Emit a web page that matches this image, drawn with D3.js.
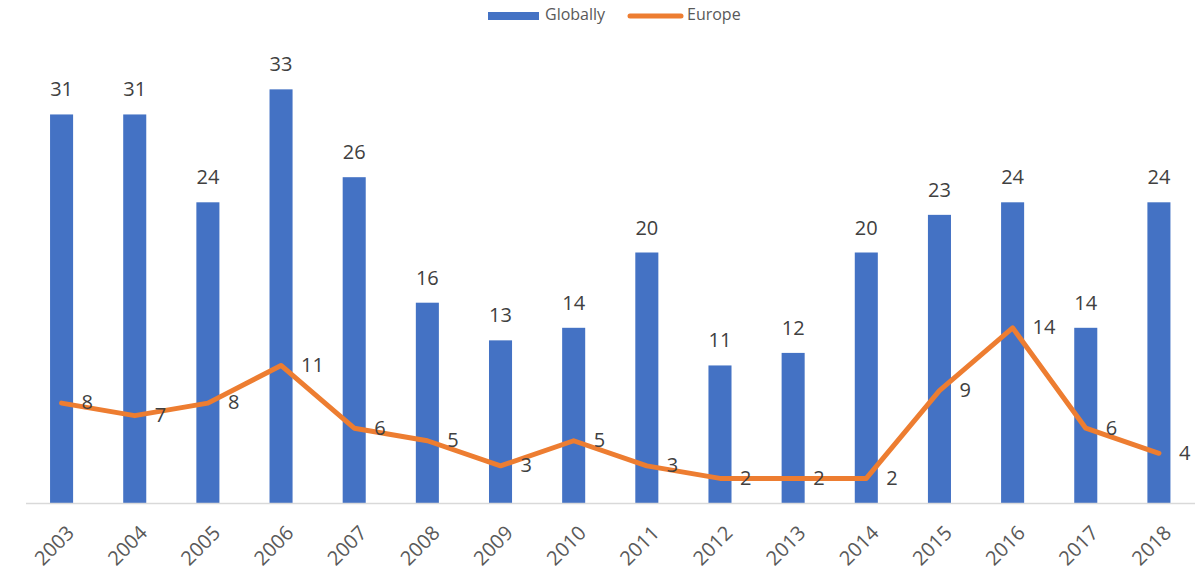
<!DOCTYPE html>
<html><head><meta charset="utf-8">
<script src="https://cdn.jsdelivr.net/npm/d3@7"></script>
<style>body{margin:0;background:#fff}svg{display:block}</style>
</head><body>
<script>
const years = ["2003","2004","2005","2006","2007","2008","2009","2010","2011","2012","2013","2014","2015","2016","2017","2018"];
const globally = [31,31,24,33,26,16,13,14,20,11,12,20,23,24,14,24];
const europe = [8,7,8,11,6,5,3,5,3,2,2,2,9,14,6,4];
const seriesNames = ["Globally","Europe"];

const W = 1201, H = 573;
const font = "'Open Sans', 'Noto Sans', sans-serif";
const svg = d3.select("body").append("svg").attr("width", W).attr("height", H);

const x = d3.scaleBand().domain(years).range([25, 1195.5]).paddingInner(0.685).paddingOuter(0.3425);
const base = 503.5;
const y = d3.scaleLinear().domain([0, 35]).range([base, base - 35 * 12.55]);

// bars
svg.append("g").selectAll("rect").data(years).join("rect")
  .attr("x", d => x(d)).attr("width", x.bandwidth())
  .attr("y", (d, i) => y(globally[i])).attr("height", (d, i) => base - y(globally[i]))
  .attr("fill", "#4472C4");

// axis
const xAxis = d3.axisBottom(x).tickSize(0).tickPadding(0);
const ag = svg.append("g").attr("transform", `translate(0,${base})`).call(xAxis);
ag.select(".domain").attr("stroke", "#d9d9d9").attr("stroke-width", 1.5).attr("d", "M26,0H1195");
ag.selectAll(".tick text")
  .attr("font-family", font).attr("font-size", 20).attr("fill", "#595959")
  .attr("text-anchor", "end").attr("dy", null).attr("y", 0)
  .attr("transform", "translate(10,27) rotate(-45)")
  .attr("dominant-baseline", "middle");

// bar labels
svg.append("g").selectAll("text").data(years).join("text")
  .attr("x", d => x(d) + x.bandwidth() / 2)
  .attr("y", (d, i) => y(globally[i]) - 18)
  .attr("text-anchor", "middle")
  .attr("font-family", font).attr("font-size", 20).attr("fill", "#404040")
  .text((d, i) => globally[i]);

// line
const line = d3.line().x((d, i) => x(years[i]) + x.bandwidth() / 2).y(d => y(d));
svg.append("path").datum(europe).attr("d", line)
  .attr("fill", "none").attr("stroke", "#ED7D31").attr("stroke-width", 5)
  .attr("stroke-linejoin", "round").attr("stroke-linecap", "round");

// line labels
svg.append("g").selectAll("text").data(europe).join("text")
  .attr("x", (d, i) => x(years[i]) + x.bandwidth() / 2 + 20)
  .attr("y", d => y(d) + 1)
  .attr("dominant-baseline", "middle")
  .attr("font-family", font).attr("font-size", 20).attr("fill", "#404040")
  .text(d => d);

// legend
const lg = svg.append("g");
lg.append("rect").attr("x", 488).attr("y", 12).attr("width", 51).attr("height", 8).attr("fill", "#4472C4");
lg.append("text").attr("x", 545).attr("y", 16).attr("dominant-baseline", "middle")
  .attr("font-family", font).attr("font-size", 16).attr("fill", "#595959").text(seriesNames[0]);
lg.append("line").attr("x1", 630).attr("x2", 681).attr("y1", 16).attr("y2", 16)
  .attr("stroke", "#ED7D31").attr("stroke-width", 5).attr("stroke-linecap", "round");
lg.append("text").attr("x", 687).attr("y", 16).attr("dominant-baseline", "middle")
  .attr("font-family", font).attr("font-size", 16).attr("fill", "#595959").text(seriesNames[1]);
</script>
</body></html>
